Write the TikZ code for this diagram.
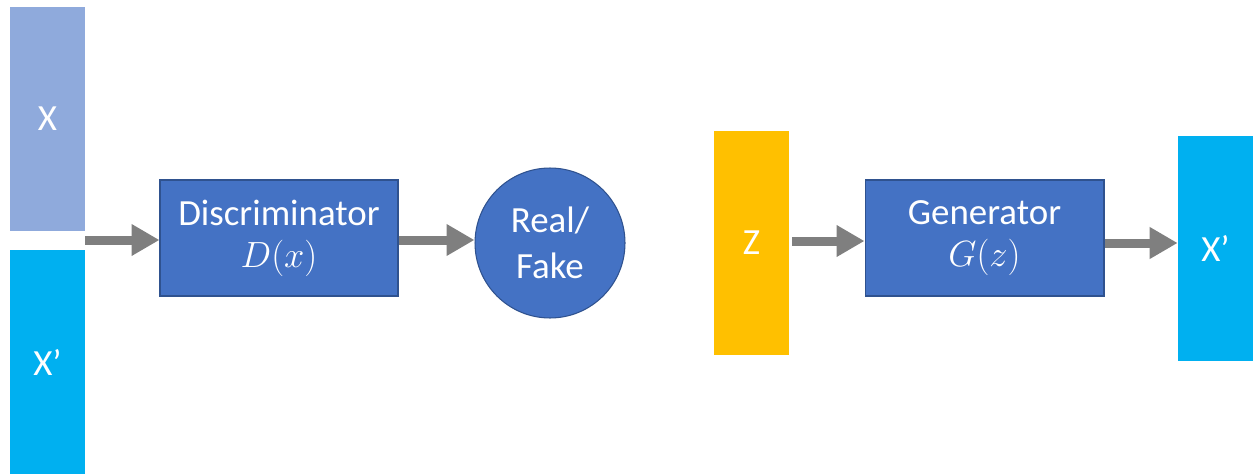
\documentclass[tikz,border=0pt]{standalone}
\usepackage{amsmath}
\usepackage{fontspec}
\setmainfont{Carlito}
\usetikzlibrary{arrows.meta}

\definecolor{barlight}{HTML}{8FAADC}
\definecolor{barcyan}{HTML}{00B0F0}
\definecolor{baramber}{HTML}{FFC000}
\definecolor{boxblue}{HTML}{4472C4}
\definecolor{boxedge}{HTML}{2F528F}
\definecolor{arrowgray}{HTML}{7F7F7F}

\begin{document}
\begin{tikzpicture}[x=0.02cm,y=-0.02cm,
	>/.tip={Triangle[length=0.56cm,width=0.6cm]},
	bar/.style={inner sep=0pt,minimum width=1.5cm,text=white,font=\fontsize{21}{25}\selectfont},
	block/.style={draw=boxedge,line width=0.6pt,fill=boxblue,inner sep=0pt,minimum width=4.76cm,minimum height=2.32cm,text=white,align=center,font=\fontsize{21}{26}\selectfont},
	flow/.style={->,draw=arrowgray,line width=0.18cm}]
	\useasboundingbox (0,0) rectangle (1253,473);
	\draw (47.5,119) node (x) [bar,fill=barlight,minimum height=4.48cm] {X};
	\draw (47.5,362) node (xfake) [bar,fill=barcyan,minimum height=4.48cm] {X’};
	\coordinate (join) at (85,240);
	\draw (279,238) node (disc) [block] {Discriminator\\[-2pt]$D(x)$};
	\draw (550,243) node (real) [block,shape=circle,minimum size=3cm,minimum width=3cm,minimum height=3cm] {Real/\\Fake};
	\draw (751.5,243) node (z) [bar,fill=baramber,minimum height=4.48cm] {Z};
	\draw (984.5,238) node (gen) [block,minimum width=4.78cm] {Generator\\[-2pt]$G(z)$};
	\draw (1215.5,248.5) node (xout) [bar,fill=barcyan,minimum height=4.5cm] {X’};

	\draw[flow] (join) -- (join -| disc.west);
	\draw[flow] ([yshift=-0.04cm]disc.east) -- ([yshift=-0.04cm]disc.east -| real.west);
	\draw[flow] ([xshift=0.06cm,yshift=0.04cm]z.east) -- ([yshift=0.04cm]z.east -| gen.west);
	\draw[flow] ([yshift=-0.1cm]gen.east) -- ([yshift=-0.1cm]gen.east -| xout.west);
\end{tikzpicture}
\end{document}
